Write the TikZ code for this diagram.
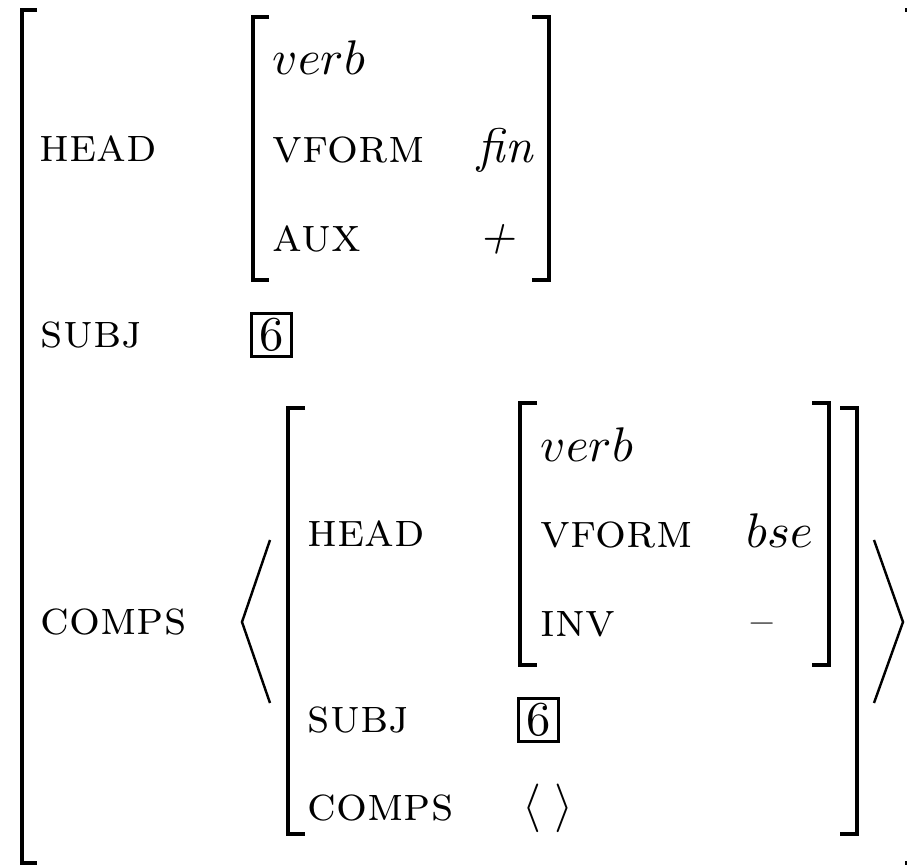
\documentclass[tikz,border=0pt]{standalone}
\begin{document}
\begin{tikzpicture}[x=0.2056pt, y=-0.2056pt,
    attr/.style={anchor=base west, inner sep=0pt, font=\scshape},
    val/.style={anchor=base west, inner sep=0pt},
    sym/.style={anchor=base, inner sep=0pt},
    tagbox/.style={draw, line width=0.6pt, inner sep=0pt, minimum width=8.2pt, minimum height=8.9pt},
    brk/.style={line width=0.72pt},
    ang/.style={line width=0.5pt, line join=miter}
  ]
  \useasboundingbox (0,0) rectangle (907,866);
  \clip (0,0) rectangle (907,866);

  % Outer matrix
  \draw[brk] (37,10) -- (22,10) -- (22,863) -- (37,863);
  \draw[brk] (905,10) -- (921,10) -- (921,863) -- (905,863);

  \node[attr] (head) at (39,162) {head};
  \node[attr] (subj) at (40,348) {subj};
  \node[attr] (comps) at (40,635) {comps};

  % HEAD value
  \draw[brk] (269,17) -- (253,17) -- (253,280) -- (269,280);
  \draw[brk] (532,17) -- (549,17) -- (549,280) -- (532,280);
  \node[val] (verb1) at (272,75) {$verb$};
  \node[attr] (vform1) at (272,163) {vform};
  \node[val] (fin) at (477,163) {\textit{fin}};
  \node[attr] (aux) at (272,252) {aux};
  \node[sym] (plus) at (497,252) {\textit{+}};

  % SUBJ value
  \node[tagbox] (tag1) at (271.5,335) {6};

  % COMPS list
  \draw[ang] (270,540) -- (242,622) -- (270,703);
  \draw[ang] (874,540) -- (903,622) -- (874,703);
  \draw[brk] (305,408) -- (288,408) -- (288,834) -- (305,834);
  \draw[brk] (840,408) -- (857,408) -- (857,834) -- (840,834);

  \node[attr] (head2) at (307,547) {head};
  \node[attr] (subj2) at (307,733) {subj};
  \node[attr] (comps2) at (307,820) {comps};

  % inner HEAD value
  \draw[brk] (537,403) -- (520,403) -- (520,665) -- (537,665);
  \draw[brk] (812,403) -- (829,403) -- (829,665) -- (812,665);
  \node[val] (verb2) at (540,462) {$verb$};
  \node[attr] (vform2) at (540,548) {vform};
  \node[val] (bse) at (746,548) {$bse$};
  \node[attr] (inv) at (540,637) {inv};
  \node[sym] (minus) at (760,637) {\textit{--}};

  \node[tagbox] (tag2) at (538.5,720) {6};
  \node[sym] (lang) at (532,820) {$\langle$};
  \node[sym] (rang) at (564,820) {$\rangle$};
\end{tikzpicture}
\end{document}
